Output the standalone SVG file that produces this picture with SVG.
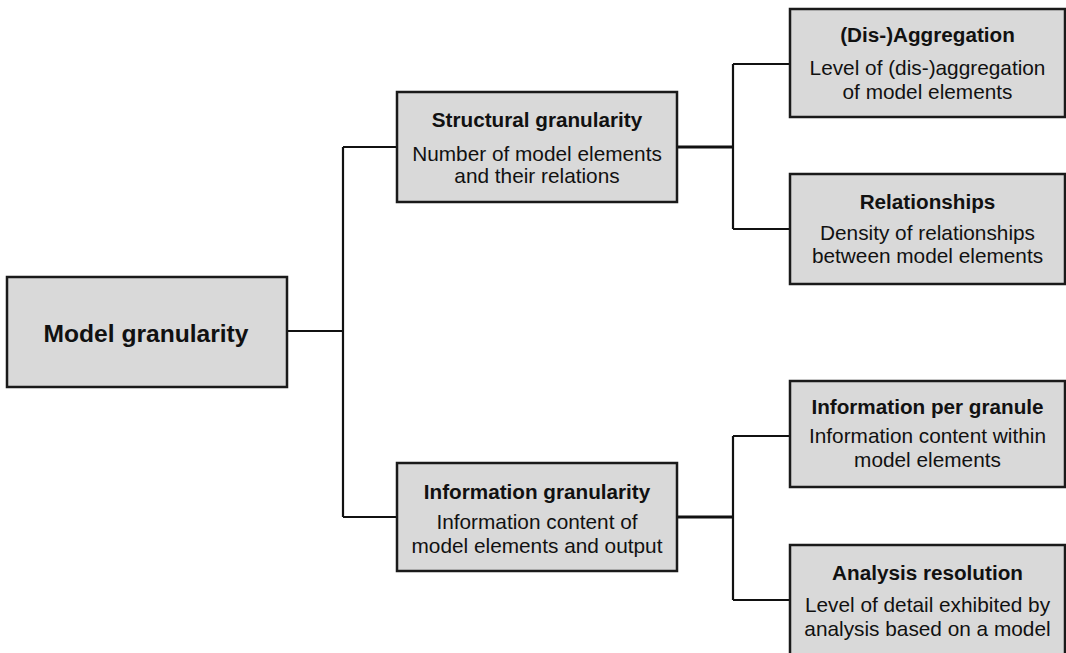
<svg xmlns="http://www.w3.org/2000/svg" width="1066" height="653" viewBox="0 0 1066 653">
<style>
.box{fill:#d9d9d9;stroke:#1a1a1a;stroke-width:2.5}
.t{font-family:"Liberation Sans",Arial,sans-serif;font-weight:bold;font-size:20.7px;fill:#111;text-anchor:middle}
.d{font-family:"Liberation Sans",Arial,sans-serif;font-size:20.8px;fill:#111;text-anchor:middle}
.c{fill:none;stroke:#111;stroke-width:2.2}
.c3{fill:none;stroke:#111;stroke-width:3}
</style>
<rect width="1066" height="653" fill="#fff"/>
<g id="connectors">
<path class="c" d="M287 331H343M343 147V517M343 147H397M343 517H397"/>
<path class="c3" d="M677 147H733"/>
<path class="c" d="M733 64V229M733 64H790M733 229H790"/>
<path class="c3" d="M677 517H733"/>
<path class="c" d="M733 436V600M733 436H790M733 600H790"/>
</g>
<g id="model-granularity">
<rect class="box" x="7" y="277" width="280" height="110"/>
<text class="t" x="146" y="342" style="font-size:24.6px">Model granularity</text>
</g>
<g id="structural-granularity">
<rect class="box" x="397" y="92" width="280" height="110"/>
<text class="t" x="537" y="127">Structural granularity</text>
<text class="d" x="537" y="161">Number of model elements</text>
<text class="d" x="537" y="183">and their relations</text>
</g>
<g id="information-granularity">
<rect class="box" x="397" y="463" width="280" height="108"/>
<text class="t" x="537" y="499">Information granularity</text>
<text class="d" x="537" y="529">Information content of</text>
<text class="d" x="537" y="553">model elements and output</text>
</g>
<g id="dis-aggregation">
<rect class="box" x="790" y="9" width="275" height="108"/>
<text class="t" x="927.5" y="42">(Dis-)Aggregation</text>
<text class="d" x="927.5" y="75">Level of (dis-)aggregation</text>
<text class="d" x="927.5" y="99">of model elements</text>
</g>
<g id="relationships">
<rect class="box" x="790" y="174" width="275" height="110"/>
<text class="t" x="927.5" y="209">Relationships</text>
<text class="d" x="927.5" y="240">Density of relationships</text>
<text class="d" x="927.5" y="263">between model elements</text>
</g>
<g id="information-per-granule">
<rect class="box" x="790" y="381" width="275" height="106"/>
<text class="t" x="927.5" y="414">Information per granule</text>
<text class="d" x="927.5" y="443">Information content within</text>
<text class="d" x="927.5" y="467">model elements</text>
</g>
<g id="analysis-resolution">
<rect class="box" x="790" y="545" width="275" height="120"/>
<text class="t" x="927.5" y="580">Analysis resolution</text>
<text class="d" x="927.5" y="612">Level of detail exhibited by</text>
<text class="d" x="927.5" y="636">analysis based on a model</text>
</g>
</svg>
